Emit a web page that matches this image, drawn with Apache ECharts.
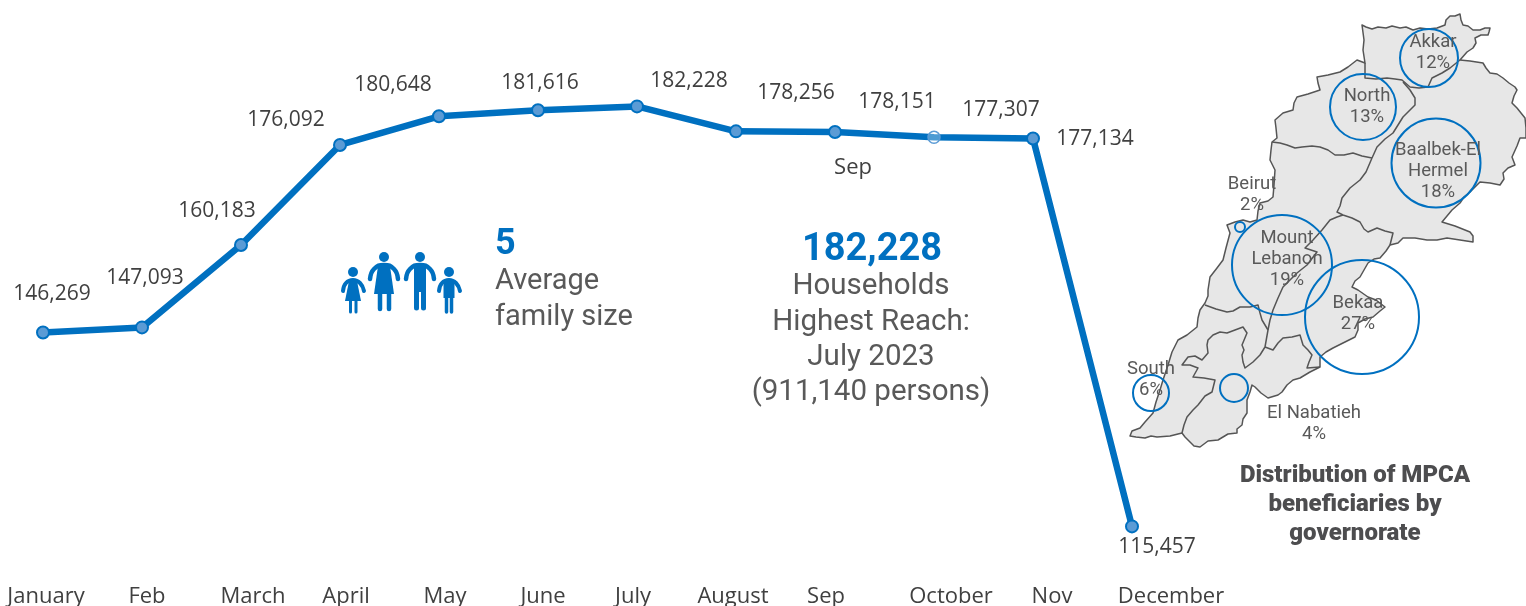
<!DOCTYPE html>
<html>

<head>
    <meta http-equiv="Content-Type" content="text/html; charset=utf-8">
    <title>MPCA households reached 2023</title>
    <script src="https://cdn.jsdelivr.net/npm/echarts@6/dist/echarts.min.js"></script>
    <style>
    html, body { margin: 0; padding: 0; background: #fff; }
    #main { width: 1526px; height: 606px; }
    </style>
</head>

<body>
    <div id="main"></div>
    <script>
    var months = ["January", "Feb", "March", "April", "May", "June", "July", "August", "Sep", "October", "Nov", "December"];
    var households = [146269, 147093, 160183, 176092, 180648, 181616, 182228, 178256, 178151, 177307, 177134, 115457];
    var governorates = ["Akkar", "North", "Baalbek-El\nHermel", "Beirut", "Mount\nLebanon", "Bekaa", "South", "El Nabatieh"];
    var shares = [12, 13, 18, 2, 19, 27, 6, 4];

    // layout, kept apart from the values
    var monthLabelX = [46, 147, 253, 346, 445, 543, 633, 733, 826, 951, 1052, 1171];
    var valueLabelOffset = [[9, -39], [3, -49], [-24, -34], [-54, -25], [-46, -31], [2, -27], [52, -25], [60, -38], [62, -30], [67, -27], [62, 1], [25, 21]];
    var bubbleCenter = [[1429, 58], [1363, 107], [1436, 163], [1240, 227], [1282, 265], [1362, 317], [1151, 393], [1234, 388]];
    var bubbleSize = [58, 66, 89, 10, 100, 114, 36, 28];
    var bubbleLabelOffset = [[4, -5], [4, 0], [2, 8], [12, -32], [5, -6], [-4, -3], [0, -13], [80, 36]];

    var mapOutline = "M1362,25 L1366,27 1372,29 1378,27 1386,28 1392,26 1400,28 1406,27 1413,30 1420,28 1428,29 1437,28 1445,25 1446,20 1450,16 1455,16 1460,14 1461,20 1463,25 1468,26 1473,30 1480,30 1485,28 1490,28 1489,32 1488,35 1481,35 1475,38 1476,43 1473,48 1467,52 1460,60 1470,61 1483,63 1486,68 1490,73 1497,74 1503,78 1509,83 1515,87 1517,90 1514,96 1512,103 1517,108 1521,113 1525,118 1526,128 1526,138 1520,138 1517,146 1512,157 1515,165 1508,168 1503,173 1504,179 1500,185 1490,183 1480,182 1475,187 1470,192 1464,197 1460,203 1452,210 1442,222 1455,226 1470,232 1473,236 1473,242 1460,240 1447,238 1437,240 1427,240 1415,238 1403,238 1398,243 1390,245 1386,251 1380,258 1374,259 1368,263 1364,270 1360,277 1355,281 1352,287 1358,290 1368,297 1376,300 1385,307 1380,311 1373,317 1365,319 1358,323 1358,330 1355,337 1345,342 1333,348 1326,352 1320,357 1320,367 1310,372 1300,378 1293,380 1287,385 1282,392 1278,395 1268,398 1261,393 1255,387 1252,385 1250,392 1247,400 1247,407 1247,413 1243,419 1242,425 1237,429 1237,433 1228,434 1218,440 1208,441 1200,447 1194,446 1190,442 1185,437 1182,433 1170,436 1157,437 1151,436 1145,438 1136,437 1130,436 1132,431 1140,428 1145,422 1153,413 1156,402 1160,390 1163,380 1168,365 1172,352 1178,340 1187,335 1197,327 1198,318 1200,310 1205,303 1208,296 1208,290 1210,277 1217,268 1223,260 1226,248 1230,233 1227,225 1235,222 1243,220 1250,222 1257,220 1258,211 1260,203 1268,201 1273,197 1274,185 1275,170 1270,160 1271,150 1272,142 1277,138 1276,128 1275,120 1283,113 1293,110 1294,103 1297,97 1308,94 1320,90 1318,83 1317,77 1328,75 1340,72 1348,67 1357,60 1365,63 1363,50 1364,40 Z";
    var mapBorders = [
        "M1365,63 L1365,78 1376,79 1387,78 1395,79 1402,80 1410,87 1419,88 1428,87 1432,78 1442,73 1450,68 1460,60",
        "M1403,82 L1410,90 1415,98 1415,105 1403,117 1398,125 1393,133 1385,139 1377,147 1372,158",
        "M1272,142 L1280,143 1287,145 1295,148 1302,147 1312,146 1320,147 1328,150 1335,155 1344,155 1353,153 1362,156 1372,158",
        "M1372,158 L1366,172 1360,180 1350,188 1342,198 1340,206 1337,212 1343,215 1352,218 1360,222 1364,229 1368,232 1377,228 1385,231 1393,233 1390,245",
        "M1343,215 L1337,217 1330,220 1322,230 1313,240 1305,248 1317,252 1307,265 1297,273 1290,280 1283,287 1278,298 1273,310 1270,320 1268,330 1265,347",
        "M1205,305 L1216,309 1227,312 1233,311 1240,307 1250,307 1258,305 1260,313 1262,320 1268,330",
        "M1265,347 L1273,350 1278,343 1283,338 1292,337 1300,335 1303,345 1308,350 1312,355 1309,362 1307,368 1320,367",
        "M1265,347 L1260,355 1253,362 1245,368 1243,362 1242,355 1244,350 1242,345 1247,333 1243,327 1235,330 1227,333 1220,332 1213,335 1208,340 1207,345 1208,353 1202,360 1195,356 1188,357 1182,365 1190,365 1198,368 1193,377 1204,378 1215,380 1212,392 1205,396 1198,405 1193,410 1187,417 1184,425 1182,433"
    ];

    var svgMap = '<svg xmlns="http://www.w3.org/2000/svg" viewBox="0 0 1526 606" width="1526" height="606">' +
        '<path d="' + mapOutline + '" fill="#e7e7e7" stroke="#555555" stroke-width="1.5" stroke-linejoin="round"/>' +
        mapBorders.map(function(d) {
            return '<path d="' + d + '" fill="none" stroke="#555555" stroke-width="1.5" stroke-linejoin="round"/>';
        }).join("") + '</svg>';
    echarts.registerMap("lebanon", { svg: svgMap });

    function bigText(x, y, str, size, weight, color, align, family) {
        return {
            type: "text",
            silent: true,
            style: {
                x: x,
                y: y,
                text: str,
                fill: color,
                align: align || "center",
                verticalAlign: "middle",
                font: weight + " " + size + "px " + (family || "Roboto")
            }
        };
    }

    function monthLabels() {
        return months.map(function(m, i) {
            return bigText(monthLabelX[i], 597, m, 22, "normal", "#404040", "center", "'Open Sans'");
        });
    }

    // the family pictogram
    var blue = "#0070c0";
    function limb(pts, w) {
        return { type: "polyline", silent: true, shape: { points: pts, smooth: 0.5 }, style: { fill: "none", stroke: blue, lineWidth: w, lineCap: "round" } };
    }
    function solid(pts) {
        return { type: "polygon", silent: true, shape: { points: pts }, style: { fill: blue } };
    }
    function head(x, y, r) {
        return { type: "circle", silent: true, shape: { cx: x, cy: y, r: r }, style: { fill: blue } };
    }
    var family = [
        head(353, 272, 5), limb([[343, 291], [346, 283], [353, 280], [360, 283], [364, 291]], 4), solid([[349, 281], [357, 281], [361, 301], [345, 301]]), limb([[350.5, 301], [350.5, 312]], 3), limb([[356, 301], [356, 312]], 3),
        head(384, 257, 5), limb([[370, 279], [374, 269], [384, 265], [394, 269], [398, 279]], 4.5), solid([[378, 266], [390, 266], [394, 294], [374, 294]]), limb([[380, 294], [380, 309]], 4.5), limb([[389, 294], [389, 309]], 4.5),
        head(420, 257, 5), limb([[406, 279], [410, 269], [420, 265], [430, 269], [434, 279]], 4.5), solid([[414, 265], [426, 265], [426, 292], [414, 292]]), limb([[416.5, 290], [416.5, 308]], 5), limb([[423.5, 290], [423.5, 308]], 5),
        head(449, 272, 5), limb([[439, 291], [442, 283], [449, 280], [456, 283], [460, 291]], 4), solid([[443.5, 281], [454.5, 281], [454.5, 298], [443.5, 298]]), limb([[446.5, 297], [446.5, 312]], 3.5), limb([[451.5, 297], [451.5, 312]], 3.5)
    ];

    var texts = [
        bigText(853, 168, "Sep", 22, "normal", "#404040", "center", "'Open Sans'"),
        bigText(495, 245, "5", 36, "bold", blue, "left"),
        bigText(495, 282, "Average", 29, "normal", "#595959", "left"),
        bigText(495, 318, "family size", 29, "normal", "#595959", "left"),
        bigText(872, 250, "182,228", 38, "bold", blue),
        bigText(871, 287, "Households", 29.5, "normal", "#595959"),
        bigText(871, 323, "Highest Reach:", 29.5, "normal", "#595959"),
        bigText(871, 358, "July 2023", 29.5, "normal", "#595959"),
        bigText(871, 393, "(911,140 persons)", 29.5, "normal", "#595959"),
        bigText(1355, 476, "Distribution of MPCA", 24, "900", "#4d4d4f"),
        bigText(1355, 505, "beneficiaries by", 24, "900", "#4d4d4f"),
        bigText(1355, 534, "governorate", 24, "900", "#4d4d4f")
    ];

    var lineData = households.map(function(v, i) {
        var item = {
            value: v,
            label: { offset: valueLabelOffset[i] }
        };
        // October marker is drawn hollow in the source
        if (months[i] == "October") {
            item.itemStyle = { color: "rgba(255,255,255,0.3)", borderColor: "#5b9bd5", borderWidth: 1.5 };
        }
        return item;
    });

    var bubbleData = governorates.map(function(g, i) {
        return {
            name: g,
            value: bubbleCenter[i].concat(shares[i]),
            symbolSize: bubbleSize[i],
            label: {
                offset: bubbleLabelOffset[i]
            }
        };
    });

    var chart = echarts.init(document.getElementById("main"), null, { renderer: "canvas" });
    chart.setOption({
        animation: false,
        backgroundColor: "#ffffff",
        grid: { left: 43, width: 1089, top: 57.5, height: 503.2 },
        xAxis: { type: "category", data: months, boundaryGap: false, show: false },
        yAxis: { type: "value", min: 110000, max: 190000, show: false },
        geo: {
            map: "lebanon",
            left: 0,
            top: 0,
            width: 1526,
            height: 606,
            roam: false,
            silent: true,
            z: 1
        },
        series: [{
            type: "line",
            data: lineData,
            z: 5,
            symbol: "circle",
            symbolSize: 12,
            silent: true,
            lineStyle: { color: blue, width: 6.5 },
            itemStyle: { color: "#5b9bd5", borderColor: blue, borderWidth: 2 },
            label: {
                show: true,
                position: "inside",
                color: "#404040",
                fontFamily: "Open Sans",
                fontSize: 21,
                formatter: function(p) { return Number(p.value).toLocaleString("en-US"); }
            }
        }, {
            type: "scatter",
            coordinateSystem: "geo",
            data: bubbleData,
            z: 6,
            silent: true,
            symbol: "circle",
            itemStyle: { color: "rgba(255,255,255,0)", borderColor: blue, borderWidth: 2, opacity: 1 },
            label: {
                show: true,
                position: "inside",
                color: "#595959",
                fontFamily: "Roboto",
                fontSize: 18.5,
                lineHeight: 21,
                align: "center",
                formatter: function(p) { return p.name + "\n" + p.value[2] + "%"; }
            }
        }],
        graphic: { elements: monthLabels().concat(family, texts) }
    });
    </script>
</body>

</html>
